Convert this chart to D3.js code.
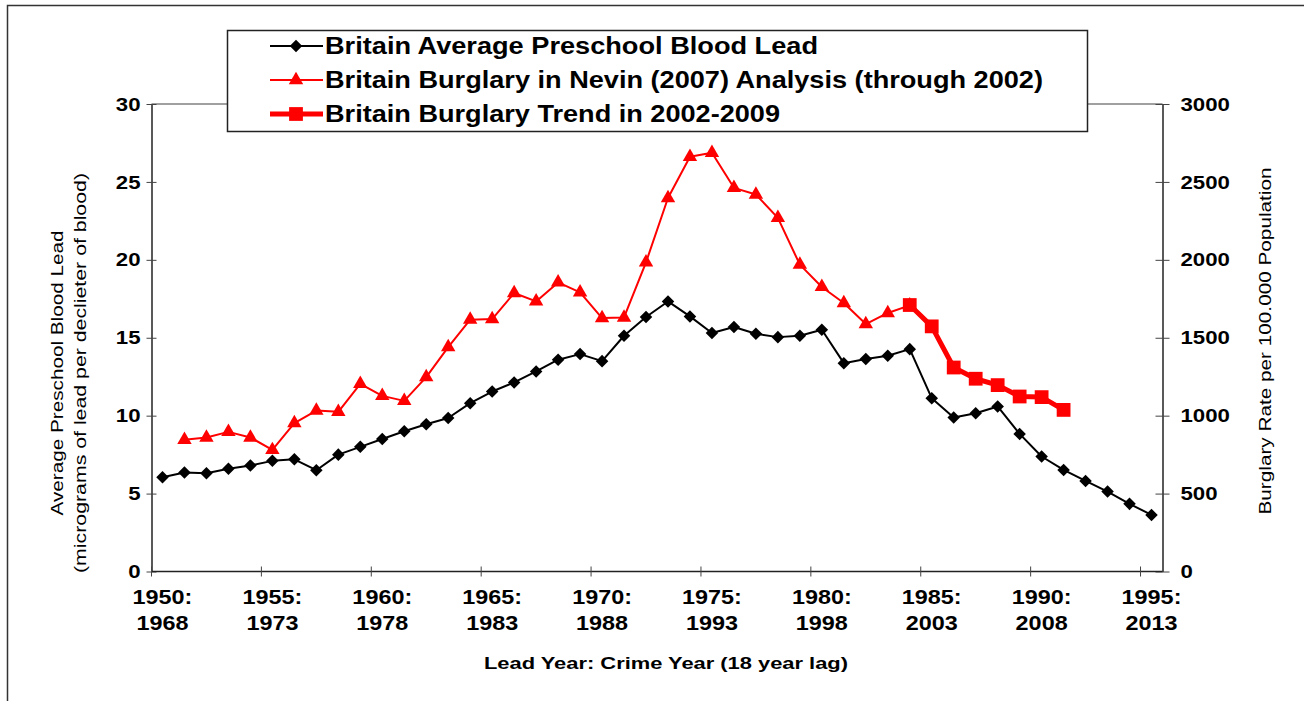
<!DOCTYPE html>
<html>
<head>
<meta charset="utf-8">
<script src="https://cdn.jsdelivr.net/npm/d3@7"></script>
<style>
  body { margin: 0; background: #fff; }
  svg { display: block; font-family: "Liberation Sans", Arial, sans-serif; }
</style>
</head>
<body>
<svg id="chart" width="1304" height="701"></svg>
<script>
// lead year categories (crime year = lead year + 18)
var leadYears = [1950,1951,1952,1953,1954,1955,1956,1957,1958,1959,
                 1960,1961,1962,1963,1964,1965,1966,1967,1968,1969,
                 1970,1971,1972,1973,1974,1975,1976,1977,1978,1979,
                 1980,1981,1982,1983,1984,1985,1986,1987,1988,1989,
                 1990,1991,1992,1993,1994,1995]

var bloodLead = [6.05,6.35,6.3,6.6,6.8,7.1,7.2,6.5,7.5,8.0,
                 8.5,9.0,9.45,9.85,10.8,11.55,12.13,12.84,13.59,13.95,
                 13.5,15.13,16.33,17.33,16.37,15.3,15.69,15.26,15.04,15.13,
                 15.51,13.37,13.63,13.84,14.27,11.12,9.88,10.16,10.59,8.83,
                 7.38,6.52,5.81,5.13,4.34,3.63]

var nevinYears = [1951,1952,1953,1954,1955,1956,1957,1958,1959,1960,
                  1961,1962,1963,1964,1965,1966,1967,1968,1969,1970,
                  1971,1972,1973,1974,1975,1976,1977,1978,1979,1980,
                  1981,1982,1983,1984]
var nevinBurglary = [845,860,896,860,780,952,1033,1025,1204,1127,
                     1095,1247,1440,1616,1620,1787,1733,1855,1791,1626,
                     1630,1984,2397,2661,2687,2462,2419,2269,1969,1826,
                     1723,1588,1659,1708]

var trendYears = [1984,1985,1986,1987,1988,1989,1990,1991]
var trendBurglary = [1710,1573,1309,1237,1196,1123,1119,1037]

var labelYears = [1950,1955,1960,1965,1970,1975,1980,1985,1990,1995]
var leftTicks  = [0,5,10,15,20,25,30]
var rightTicks = [0,500,1000,1500,2000,2500,3000]

var legendLabels = ["Britain Average Preschool Blood Lead",
                    "Britain Burglary in Nevin (2007) Analysis (through 2002)",
                    "Britain Burglary Trend in 2002-2009"]

var svg = d3.select("#chart")
var plot = {left: 151.5, right: 1162.5, top: 104, bottom: 571.5}

// the source picture is a bit stretched sideways, text too
var stretch = 1.17

// outer chart frame (only top + left visible)
svg.append("path")
  .attr("d", "M7.5,701V5.5H1304")
  .attr("fill", "none").attr("stroke", "#333").attr("stroke-width", 1.5)

var x = d3.scaleBand().domain(leadYears).range([plot.left, plot.right]).padding(0)
var cx = d => x(d) + x.bandwidth() / 2
var yL = d3.scaleLinear().domain([0, 30]).range([plot.bottom, plot.top])
var yR = d3.scaleLinear().domain([0, 3000]).range([plot.bottom, plot.top])

// plot area top border
svg.append("line")
  .attr("x1", plot.left).attr("x2", plot.right)
  .attr("y1", plot.top).attr("y2", plot.top)
  .attr("stroke", "#808080").attr("stroke-width", 1.5)

// left axis
var gL = svg.append("g").attr("transform", "translate(" + plot.left + ",0)")
gL.call(d3.axisLeft(yL).tickValues(leftTicks).tickSize(0).tickPadding(0))
gL.select(".domain").attr("stroke", "#222").attr("stroke-width", 1.5)
gL.selectAll(".tick line").remove()
gL.selectAll(".tick").append("line")
  .attr("x1", -5).attr("x2", 5).attr("stroke", "#444").attr("stroke-width", 1)
gL.selectAll(".tick text").attr("font-size", 19).attr("font-weight", "bold").attr("fill", "#000")
  .attr("font-family", "Liberation Sans, Arial, sans-serif")
  .attr("x", null)
  .attr("transform", "translate(-11,0) scale(" + stretch + ",1)")

// right axis
var gR = svg.append("g").attr("transform", "translate(" + plot.right + ",0)")
gR.call(d3.axisRight(yR).tickValues(rightTicks).tickFormat(d3.format("d")).tickSize(0).tickPadding(0))
gR.select(".domain").attr("stroke", "#222").attr("stroke-width", 1.5)
gR.selectAll(".tick line").remove()
gR.selectAll(".tick").append("line")
  .attr("x1", -7).attr("x2", 7).attr("stroke", "#444").attr("stroke-width", 1)
gR.selectAll(".tick text").attr("font-size", 19).attr("font-weight", "bold").attr("fill", "#000")
  .attr("font-family", "Liberation Sans, Arial, sans-serif")
  .attr("x", null)
  .attr("transform", "translate(18,0) scale(" + stretch + ",1)")

// bottom axis
var gB = svg.append("g").attr("transform", "translate(0," + plot.bottom + ")")
gB.append("line").attr("x1", plot.left).attr("x2", plot.right)
  .attr("stroke", "#222").attr("stroke-width", 1.5)
gB.selectAll("line.tk").data(labelYears).join("line").attr("class", "tk")
  .attr("x1", d => x(d)).attr("x2", d => x(d))
  .attr("y1", -5).attr("y2", 5).attr("stroke", "#444")
var lab = gB.selectAll("text.tl").data(labelYears).join("text").attr("class", "tl")
  .attr("transform", d => "translate(" + cx(d) + ",0) scale(" + stretch + ",1)")
  .attr("text-anchor", "middle")
  .attr("font-size", 20).attr("font-weight", "bold")
lab.append("tspan").attr("x", 0).attr("y", 33).text(d => d + ":")
lab.append("tspan").attr("x", 0).attr("y", 59).text(d => d + 18)

// axis titles, widths fitted to the source
svg.append("text").attr("x", 666).attr("y", 669).attr("text-anchor", "middle")
  .attr("font-size", 17).attr("font-weight", "bold")
  .attr("textLength", 364).attr("lengthAdjust", "spacingAndGlyphs")
  .text("Lead Year: Crime Year (18 year lag)")

var lt = svg.append("text").attr("transform", "translate(0,373) rotate(-90)")
  .attr("text-anchor", "middle").attr("font-size", 17)
lt.append("tspan").attr("x", 0).attr("y", 63)
  .attr("textLength", 285).attr("lengthAdjust", "spacingAndGlyphs")
  .text("Average Preschool Blood Lead")
lt.append("tspan").attr("x", 0).attr("y", 86)
  .attr("textLength", 400).attr("lengthAdjust", "spacingAndGlyphs")
  .text("(micrograms of lead per declieter of blood)")

svg.append("text").attr("transform", "translate(1271,341) rotate(-90)")
  .attr("text-anchor", "middle").attr("font-size", 17)
  .attr("textLength", 347).attr("lengthAdjust", "spacingAndGlyphs")
  .text("Burglary Rate per 100.000 Population")

// series
var line = d3.line()

function drawLine(xs, ys, yscale, color, width) {
  svg.append("path")
    .datum(xs.map((d, i) => [cx(d), yscale(ys[i])]))
    .attr("fill", "none").attr("stroke", color).attr("stroke-width", width)
    .attr("stroke-linejoin", "round")
    .attr("d", line)
}

var diamond = d3.symbol().type(d3.symbolDiamond2).size(100)
var triangle = d3.symbol().type(d3.symbolTriangle).size(90)
var square = d3.symbol().type(d3.symbolSquare).size(190)

drawLine(nevinYears, nevinBurglary, yR, "#ff0000", 2)
svg.append("g").selectAll("path").data(nevinYears).join("path")
  .attr("transform", (d, i) => "translate(" + cx(d) + "," + yR(nevinBurglary[i]) + ")")
  .attr("d", triangle).attr("fill", "#ff0000")

drawLine(trendYears, trendBurglary, yR, "#ff0000", 5)
svg.append("g").selectAll("path").data(trendYears).join("path")
  .attr("transform", (d, i) => "translate(" + cx(d) + "," + yR(trendBurglary[i]) + ")")
  .attr("d", square).attr("fill", "#ff0000")

drawLine(leadYears, bloodLead, yL, "#000", 2)
svg.append("g").selectAll("path").data(leadYears).join("path")
  .attr("transform", (d, i) => "translate(" + cx(d) + "," + yL(bloodLead[i]) + ")")
  .attr("d", diamond).attr("fill", "#000")

// legend
var lg = svg.append("g")
lg.append("rect").attr("x", 227.5).attr("y", 30.5).attr("width", 860).attr("height", 101)
  .attr("fill", "#fff").attr("stroke", "#222").attr("stroke-width", 1.5)
var legendStyle = [
  {color: "#000", width: 2, sym: diamond, len: 493},
  {color: "#ff0000", width: 2, sym: triangle, len: 718},
  {color: "#ff0000", width: 5, sym: square, len: 455}
]
var rowY = [46, 80, 114]
legendLabels.forEach((t, i) => {
  var s = legendStyle[i]
  lg.append("line").attr("x1", 270).attr("x2", 323).attr("y1", rowY[i]).attr("y2", rowY[i])
    .attr("stroke", s.color).attr("stroke-width", s.width)
  lg.append("path").attr("transform", "translate(296," + rowY[i] + ")")
    .attr("d", s.sym).attr("fill", s.color)
  lg.append("text").attr("x", 325).attr("y", rowY[i] + 8)
    .attr("font-size", 23).attr("font-weight", "bold")
    .attr("textLength", s.len).attr("lengthAdjust", "spacingAndGlyphs")
    .text(t)
})
</script>
</body>
</html>
